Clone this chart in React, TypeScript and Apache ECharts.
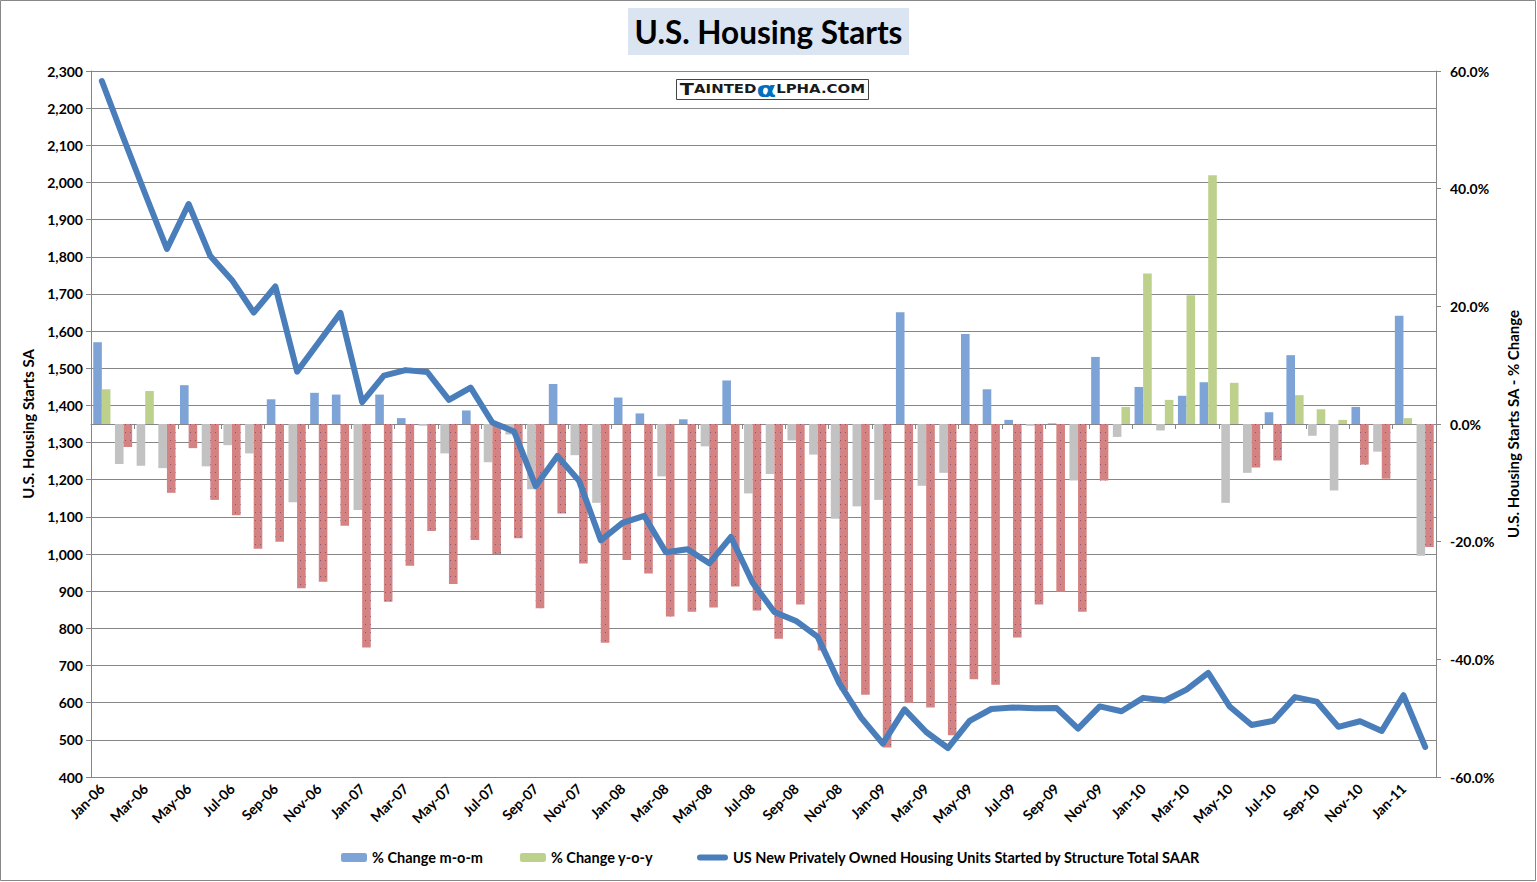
import React, { useEffect, useRef } from 'react';
import * as echarts from 'echarts';

const categories = [
  'Jan-06', 'Feb-06', 'Mar-06', 'Apr-06', 'May-06', 'Jun-06', 'Jul-06', 'Aug-06', 'Sep-06', 'Oct-06', 'Nov-06', 'Dec-06',
  'Jan-07', 'Feb-07', 'Mar-07', 'Apr-07', 'May-07', 'Jun-07', 'Jul-07', 'Aug-07', 'Sep-07', 'Oct-07', 'Nov-07', 'Dec-07',
  'Jan-08', 'Feb-08', 'Mar-08', 'Apr-08', 'May-08', 'Jun-08', 'Jul-08', 'Aug-08', 'Sep-08', 'Oct-08', 'Nov-08', 'Dec-08',
  'Jan-09', 'Feb-09', 'Mar-09', 'Apr-09', 'May-09', 'Jun-09', 'Jul-09', 'Aug-09', 'Sep-09', 'Oct-09', 'Nov-09', 'Dec-09',
  'Jan-10', 'Feb-10', 'Mar-10', 'Apr-10', 'May-10', 'Jun-10', 'Jul-10', 'Aug-10', 'Sep-10', 'Oct-10', 'Nov-10', 'Dec-10',
  'Jan-11', 'Feb-11',
];

// US New Privately Owned Housing Units Started, SAAR (thousands)
const housingStarts = [
  2273, 2119, 1969, 1821, 1942, 1802, 1737, 1650, 1720, 1491, 1570, 1649,
  1409, 1480, 1495, 1490, 1415, 1448, 1354, 1330, 1183, 1264, 1197, 1037,
  1084, 1103, 1005, 1013, 975, 1046, 923, 844, 820, 777, 652, 560,
  490, 582, 521, 478, 551, 583, 587, 585, 586, 530, 590, 577,
  613, 606, 635, 680, 589, 540, 551, 615, 603, 535, 550, 524,
  620, 481,
];

// % Change m-o-m
const momChange = [
  13.9, -6.8, -7.1, -7.5, 6.6, -7.2, -3.6, -5.0, 4.2, -13.3, 5.3, 5.0,
  -14.6, 5.0, 1.0, -0.3, -5.0, 2.3, -6.5, -1.8, -11.1, 6.8, -5.3, -13.4,
  4.5, 1.8, -8.9, 0.8, -3.8, 7.4, -11.8, -8.5, -2.8, -5.2, -16.1, -14.0,
  -12.9, 19.0, -10.5, -8.3, 15.3, 5.9, 0.7, -0.3, 0.1, -9.6, 11.4, -2.2,
  6.3, -1.1, 4.8, 7.1, -13.4, -8.3, 2.0, 11.7, -2.0, -11.3, 2.9, -4.7,
  18.4, -22.4,
];

// % Change y-o-y
const yoyChange = [
  5.9, -3.9, 5.6, -11.7, -4.1, -12.9, -15.5, -21.2, -20.0, -27.9, -26.8, -17.3,
  -38.0, -30.2, -24.1, -18.2, -27.2, -19.7, -22.1, -19.4, -31.3, -15.2, -23.7, -37.2,
  -23.1, -25.4, -32.7, -31.9, -31.2, -27.6, -31.7, -36.5, -30.7, -38.5, -45.2, -46.0,
  -55.0, -47.4, -48.2, -52.9, -43.4, -44.3, -36.3, -30.7, -28.5, -31.9, -9.6, 2.9,
  25.6, 4.1, 21.9, 42.3, 7.0, -7.4, -6.2, 4.9, 2.5, 0.7, -6.9, -9.3,
  1.0, -20.9,
];

const seriesNames = [
  '% Change m-o-m',
  '% Change y-o-y',
  'US New Privately Owned Housing Units Started by Structure Total SAAR',
];

const FONT = 'Lato, "Open Sans", "DejaVu Sans", sans-serif';
const BLUE = '#7ea3d6';
const GRAY = '#c2c2c2';
const GREEN = '#bdd08c';
const RED = '#d48282';
const LINE = '#4a7ebb';
const AXIS = '#868686';
const PILL = 'path://M3,0 H28 A3,3 0 0 1 28,6 H3 A3,3 0 0 1 3,0 Z';

export default function App() {
  const ref = useRef<HTMLDivElement>(null);

  useEffect(() => {
    const chart = echarts.init(ref.current as HTMLDivElement, null, { renderer: 'svg' });

    const dots = {
      symbol: 'rect',
      symbolSize: 1,
      color: 'rgba(105,70,120,0.75)',
      dashArrayX: [1, 4],
      dashArrayY: [1, 7],
    };

    const momData = momChange.map((v) => ({
      value: v,
      itemStyle: { color: v >= 0 ? BLUE : GRAY },
    }));
    const yoyData = yoyChange.map((v) =>
      v >= 0
        ? { value: v, itemStyle: { color: GREEN } }
        : { value: v, itemStyle: { color: RED, decal: dots } }
    );

    const labelStyle = { fontFamily: FONT, fontWeight: 'bold', fontSize: 14, color: '#000' };
    const nameStyle = { fontFamily: FONT, fontWeight: 'bold', fontSize: 15, color: '#000' };
    const legendText = { fontFamily: FONT, fontWeight: 'bold', fontSize: 14.5, color: '#000' };

    chart.setOption({
      animation: false,
      backgroundColor: '#ffffff',
      grid: { left: 91, top: 71, width: 1345, height: 706, containLabel: false },
      legend: [
        {
          data: [seriesNames[0], seriesNames[1]],
          left: 336,
          top: 845,
          itemWidth: 26,
          itemHeight: 9,
          itemGap: 37,
          textStyle: legendText,
        },
        {
          data: [{ name: seriesNames[2], icon: PILL, itemStyle: { color: LINE } }],
          left: 692,
          top: 845,
          itemWidth: 31,
          itemHeight: 6,
          textStyle: legendText,
        },
      ],
      xAxis: {
        type: 'category',
        data: categories,
        boundaryGap: true,
        axisLine: { show: true, lineStyle: { color: AXIS, width: 1 } },
        axisTick: { show: true, interval: 1, length: 5, lineStyle: { color: AXIS } },
        axisLabel: { ...labelStyle, interval: 1, rotate: 45, margin: 9 },
        splitLine: { show: false },
      },
      yAxis: [
        {
          type: 'value',
          min: 400,
          max: 2300,
          interval: 100,
          position: 'left',
          name: 'U.S. Housing Starts SA',
          nameLocation: 'middle',
          nameRotate: 90,
          nameGap: 56,
          nameTextStyle: nameStyle,
          axisLine: { show: true, lineStyle: { color: AXIS, width: 1 } },
          axisTick: { show: true, length: 5, lineStyle: { color: AXIS } },
          axisLabel: {
            ...labelStyle,
            margin: 8,
            formatter: (v: number) => v.toLocaleString('en-US'),
          },
          splitLine: { show: true, lineStyle: { color: AXIS, width: 1 } },
        },
        {
          type: 'value',
          min: -60,
          max: 60,
          interval: 20,
          position: 'right',
          name: 'U.S. Housing Starts SA - % Change',
          nameLocation: 'middle',
          nameRotate: 90,
          nameGap: 68,
          nameTextStyle: nameStyle,
          axisLine: { show: true, lineStyle: { color: AXIS, width: 1 } },
          axisTick: { show: true, length: 5, lineStyle: { color: AXIS } },
          axisLabel: {
            ...labelStyle,
            margin: 14,
            formatter: (v: number) => v.toFixed(1) + '%',
          },
          splitLine: { show: false },
        },
      ],
      series: [
        {
          name: seriesNames[0],
          type: 'bar',
          yAxisIndex: 1,
          barWidth: 8.6,
          barGap: '0%',
          itemStyle: { color: BLUE },
          data: momData,
          z: 2,
        },
        {
          name: seriesNames[1],
          type: 'bar',
          yAxisIndex: 1,
          barWidth: 8.6,
          barGap: '0%',
          itemStyle: { color: GREEN },
          data: yoyData,
          z: 2,
        },
        {
          name: seriesNames[2],
          type: 'line',
          yAxisIndex: 0,
          symbol: 'none',
          showSymbol: false,
          lineStyle: { color: LINE, width: 6, cap: 'round', join: 'round' },
          itemStyle: { color: LINE },
          data: housingStarts,
          z: 5,
        },
      ],
      graphic: [
        {
          type: 'rect',
          shape: { x: 0.5, y: 0.5, width: 1535, height: 880 },
          style: { fill: 'none', stroke: '#888888', lineWidth: 1 },
          silent: true,
          z: 100,
        },
        {
          type: 'rect',
          shape: { x: 628, y: 8, width: 281, height: 47 },
          style: { fill: '#dbe5f1' },
          silent: true,
        },
        {
          type: 'text',
          x: 768.5,
          y: 32,
          style: {
            text: 'U.S. Housing Starts',
            fontFamily: FONT,
            fontWeight: 'bold',
            fontSize: 31.5,
            fill: '#000',
            align: 'center',
            verticalAlign: 'middle',
          },
          silent: true,
        },
        {
          type: 'rect',
          shape: { x: 676.5, y: 79.5, width: 192, height: 20 },
          style: { fill: '#ffffff', stroke: '#444444', lineWidth: 1 },
          silent: true,
          z: 10,
        },
        {
          type: 'text',
          x: 772.5,
          y: 89.5,
          scaleX: 1.3,
          style: {
            text: '{b|T}{s|AINTED}{a|α}{s|LPHA.COM}',
            align: 'center',
            verticalAlign: 'middle',
            rich: {
              b: { fontFamily: '"DejaVu Sans", sans-serif', fontWeight: 'bold', fontSize: 16, fill: '#1a1a1a' },
              s: { fontFamily: '"DejaVu Sans", sans-serif', fontWeight: 'bold', fontSize: 11.5, fill: '#1a1a1a' },
              a: { fontFamily: '"DejaVu Sans", sans-serif', fontWeight: 'bold', fontSize: 22, fill: '#0070c0' },
            },
          },
          silent: true,
          z: 11,
        },
      ],
    });

    return () => chart.dispose();
  }, []);

  return (
    <div
      ref={ref}
      style={{ position: 'absolute', left: 0, top: 0, width: 1537, height: 882, background: '#ffffff' }}
    />
  );
}
